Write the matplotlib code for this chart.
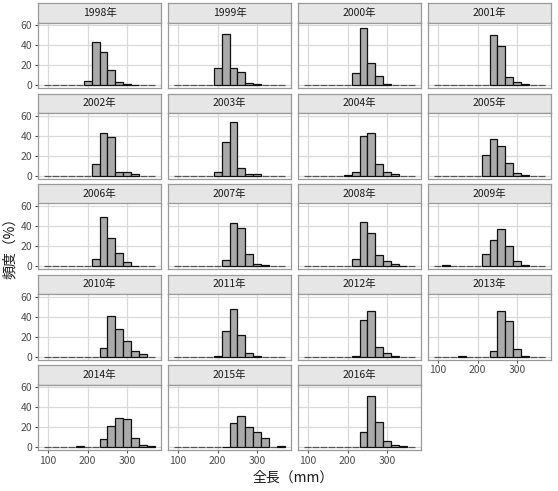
import matplotlib
matplotlib.use("Agg")
import matplotlib.pyplot as plt
import numpy as np

plt.rcParams['font.family'] = ['Noto Sans CJK JP', 'DejaVu Sans']

bins = [100, 120, 140, 160, 180, 200, 220, 240, 260, 280, 300, 320, 340, 360]
years = [1998, 1999, 2000, 2001, 2002, 2003, 2004, 2005, 2006, 2007,
         2008, 2009, 2010, 2011, 2012, 2013, 2014, 2015, 2016]

f1998 = [0, 0, 0, 0, 0, 4.4, 43.8, 33.0, 15.2, 2.7, 1.0, 0.3, 0, 0]
f1999 = [0, 0, 0, 0, 0, 17.5, 51.0, 16.8, 12.8, 2.4, 0.8, 0, 0, 0]
f2000 = [0, 0, 0, 0, 0, 0, 11.8, 57.3, 21.9, 9.4, 0.8, 0, 0, 0]
f2001 = [0, 0, 0, 0, 0, 0, 0, 50.2, 39.8, 7.8, 3.4, 0.7, 0, 0]
f2002 = [0, 0, 0, 0, 0, 0, 11.2, 43.0, 39.3, 4.0, 3.4, 1.3, 0, 0]
f2003 = [0, 0, 0, 0, 0, 4.0, 34.2, 53.9, 7.1, 1.7, 1.3, 0, 0, 0]
f2004 = [0, 0, 0, 0, 0, 0.5, 3.4, 40.3, 42.4, 11.2, 3.7, 1.3, 0, 0]
f2005 = [0, 0, 0, 0, 0, 0, 20.3, 37.3, 30.2, 12.2, 2.4, 0.5, 0, 0]
f2006 = [0, 0, 0, 0, 0, 0, 6.7, 49.3, 28.7, 13.3, 3.7, 0.5, 0, 0]
f2007 = [0, 0, 0, 0, 0, 0, 5.7, 43.0, 38.7, 11.7, 2.3, 0.7, 0, 0]
f2008 = [0, 0, 0, 0, 0, 0, 6.7, 44.7, 33.3, 11.0, 4.7, 1.7, 0.5, 0]
f2009 = [0, 1.0, 0, 0, 0, 0, 12.0, 26.0, 37.0, 19.7, 4.7, 0.7, 0, 0]
f2010 = [0, 0, 0, 0, 0, 0, 0, 8.3, 41.3, 27.3, 16.0, 5.3, 2.3, 0]
f2011 = [0, 0, 0, 0, 0, 0.5, 26.0, 48.0, 21.3, 4.0, 0.7, 0, 0, 0]
f2012 = [0, 0, 0, 0, 0, 0, 0.5, 36.7, 46.0, 10.0, 3.7, 0.7, 0, 0]
f2013 = [0, 0, 0, 1.0, 0, 0, 0, 6.0, 45.7, 35.7, 8.0, 0.5, 0, 0]
f2014 = [0, 0, 0, 0, 1.3, 0, 0, 8.4, 20.9, 29.7, 28.0, 8.8, 2.4, 1.0]
f2015 = [0, 0, 0, 0, 0, 0, 0.5, 23.9, 31.0, 20.6, 15.2, 9.1, 0, 1.0]
f2016 = [0, 0, 0, 0, 0, 0, 0, 14.8, 51.6, 24.9, 6.0, 2.4, 1.3, 0]

freqs = [f1998, f1999, f2000, f2001, f2002, f2003, f2004, f2005, f2006, f2007,
         f2008, f2009, f2010, f2011, f2012, f2013, f2014, f2015, f2016]

xticks = [100, 200, 300]
yticks = [0, 20, 40, 60]

W, H = 558, 491
fig = plt.figure(figsize=(W / 100, H / 100), dpi=100)

col_x = [38, 168, 298, 428]
pw = 123
strip_h = 19.5
ph = 65.5
row_top = [3, 93.5, 184, 274.5, 365]
ncol = 4
n = len(years)

border_col = '#9a9a9a'
grid_col = '#d9d9d9'
tick_col = '#4d4d4d'

for i, (yr, fr) in enumerate(zip(years, freqs)):
    r, c = divmod(i, ncol)
    x0 = col_x[c]
    st = row_top[r]
    # strip
    sax = fig.add_axes([x0 / W, 1 - (st + strip_h) / H, pw / W, strip_h / H])
    sax.set_facecolor('#e6e6e6')
    sax.set_xticks([]); sax.set_yticks([])
    for s in sax.spines.values():
        s.set_color(border_col); s.set_linewidth(0.9)
    sax.text(0.5, 0.5, f'{yr}年', ha='center', va='center', fontsize=7.5,
             color='#1a1a1a', transform=sax.transAxes)
    # panel
    ax = fig.add_axes([x0 / W, 1 - (st + strip_h + ph) / H, pw / W, ph / H])
    ax.set_facecolor('white')
    fr = np.array(fr, dtype=float)
    nz = fr > 0
    b = np.array(bins)
    ax.bar(b[~nz], fr[~nz], width=17, color='#aaaaaa', edgecolor='#555555',
           linewidth=0.9, zorder=3)
    ax.bar(b[nz], fr[nz], width=20, color='#aaaaaa', edgecolor='#111111',
           linewidth=0.9, zorder=3)
    ax.set_xlim(76, 384)
    ax.set_ylim(-3, 63)
    ax.set_xticks(xticks)
    ax.set_yticks(yticks)
    ax.grid(True, color=grid_col, linewidth=0.9, zorder=0)
    ax.set_axisbelow(True)
    for s in ax.spines.values():
        s.set_color(border_col); s.set_linewidth(0.9)
    ax.tick_params(axis='both', length=2.5, width=0.8, color=tick_col,
                   labelcolor=tick_col, labelsize=7.5, pad=1.5)
    if c != 0:
        ax.tick_params(axis='y', left=False, labelleft=False)
    below_exists = (i + ncol) < n
    if below_exists:
        ax.tick_params(axis='x', bottom=False, labelbottom=False)

fig.text(293 / W, 1 - 478 / H, '全長（mm）', ha='center', va='center',
         fontsize=10, color='#1a1a1a')
fig.text(10 / W, 1 - 245 / H, '頻度（%）', ha='center', va='center',
         rotation=90, fontsize=10, color='#1a1a1a')

fig.savefig('out.png', dpi=100)
